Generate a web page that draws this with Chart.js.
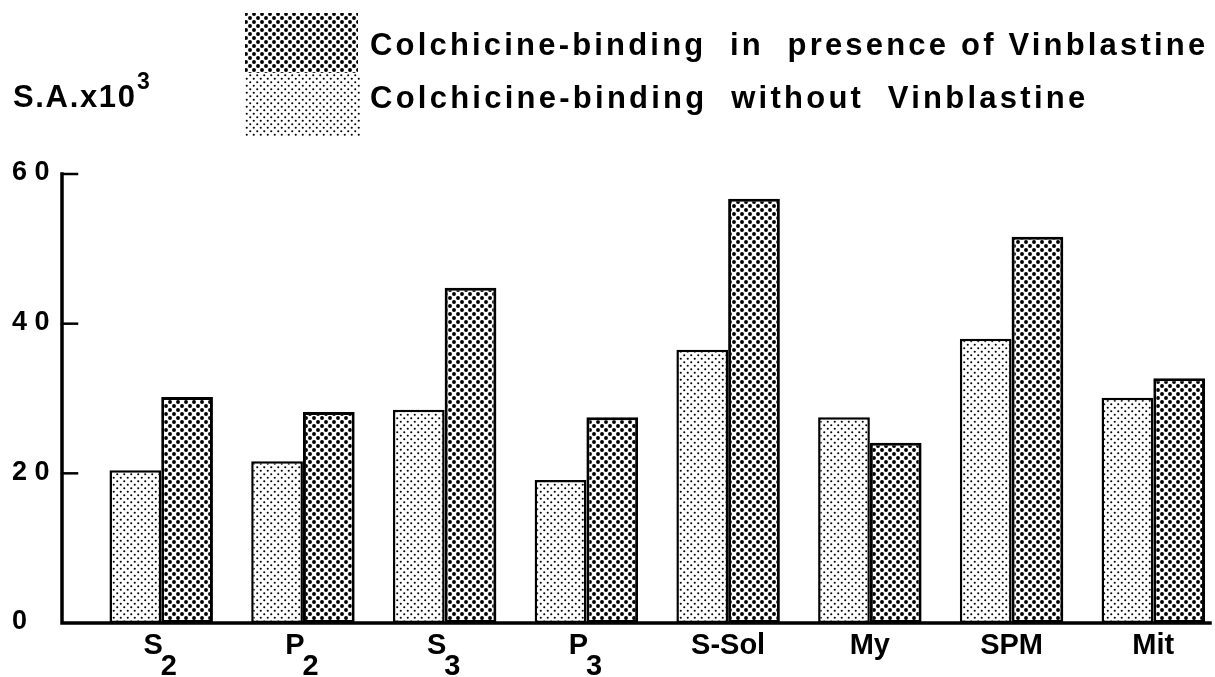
<!DOCTYPE html>
<html>
<head>
<meta charset="utf-8">
<script src="https://cdn.jsdelivr.net/npm/chart.js@4"></script>
<style>
  html, body { margin: 0; padding: 0; background: #fff; }
  canvas { display: block; }
</style>
</head>
<body>
<canvas id="myChart" width="1215" height="677"></canvas>
<script>
// categories (subscripts kept as unicode, drawn lowered by the label plugin)
const categories = ['S₂', 'P₂', 'S₃', 'P₃', 'S-Sol', 'My', 'SPM', 'Mit'];
// S.A. x10^3
const withoutVin = [20.4, 21.6, 28.5, 19.1, 36.5, 27.5, 38.0, 30.1];
const withVin = [30.2, 28.2, 44.8, 27.5, 56.7, 24.1, 51.6, 32.7];
const yTicks = [0, 20, 40, 60];
const seriesNames = ['Colchicine-binding  without  Vinblastine', 'Colchicine-binding  in  presence of Vinblastine'];
const yTitle = 'S.A.x10';
const yTitleSup = '3';

// halftone dot patterns
function dots(size, r) {
    const c = document.createElement('canvas');
    c.width = c.height = size;
    const g = c.getContext('2d');
    g.fillStyle = '#fff';
    g.fillRect(0, 0, size, size);
    g.fillStyle = '#000';
    [[size / 4, size / 4], [size * 3 / 4, size * 3 / 4]].forEach(([x, y]) => {
        g.beginPath();
        g.arc(x, y, r, 0, Math.PI * 2);
        g.fill();
    });
    return g.createPattern(c, 'repeat');
}
const lightPat = dots(7, 1.05);
const darkPat = dots(8, 1.95);

const subMap = { '₂': '2', '₃': '3' };

function spreadText(ctx, t, x, y, target) {
    ctx.letterSpacing = '0px';
    const w = ctx.measureText(t).width;
    const sp = (target - w) / (t.length - 1);
    ctx.letterSpacing = sp.toFixed(2) + 'px';
    ctx.fillText(t, x, y);
    ctx.letterSpacing = '0px';
}

const decor = {
    id: 'decor',
    afterDraw(chart) {
        const ctx = chart.ctx;
        const x = chart.scales.x, y = chart.scales.y;
        const a = chart.chartArea;
        ctx.save();
        ctx.strokeStyle = '#000';
        ctx.fillStyle = '#000';
        ctx.lineCap = 'square';

        // axes
        ctx.lineWidth = 3.5;
        ctx.beginPath();
        ctx.moveTo(a.left, a.top);
        ctx.lineTo(a.left, a.bottom);
        ctx.lineTo(a.right, a.bottom);
        ctx.stroke();

        // y ticks + labels
        ctx.lineWidth = 2.5;
        ctx.font = 'bold 27px "Liberation Sans", Arial, sans-serif';
        ctx.textBaseline = 'middle';
        ctx.textAlign = 'left';
        yTicks.forEach(v => {
            const py = y.getPixelForValue(v);
            if (v > 0) {
                ctx.beginPath();
                ctx.moveTo(a.left, py);
                ctx.lineTo(a.left + 15, py);
                ctx.stroke();
            }
            ctx.fillText(String(v).split('').join(' '), 12, py - 1);
        });

        // x labels with lowered subscripts
        ctx.font = 'bold 29px "Liberation Sans", Arial, sans-serif';
        ctx.textBaseline = 'alphabetic';
        categories.forEach((lab, i) => {
            let main = '', sub = '';
            for (const ch of lab) {
                if (subMap[ch]) sub += subMap[ch]; else main += ch;
            }
            const mw = ctx.measureText(main).width;
            const sw = sub ? ctx.measureText(sub).width : 0;
            const cx = x.getPixelForValue(i);
            const sx = cx - (mw + sw) / 2;
            ctx.fillText(main, sx, 654);
            if (sub) ctx.fillText(sub, sx + mw - 2, 675);
        });

        // y title
        ctx.font = 'bold 31px "Liberation Sans", Arial, sans-serif';
        spreadText(ctx, yTitle, 13, 107, 122);
        ctx.font = 'bold 23px "Liberation Sans", Arial, sans-serif';
        ctx.fillText(yTitleSup, 137, 89);

        // legend swatches (dark on top, light below)
        ctx.fillStyle = darkPat;
        ctx.fillRect(245, 13, 113, 60);
        ctx.fillStyle = lightPat;
        ctx.fillRect(245, 73, 115, 64);

        // legend text, spread to the widths in the picture
        ctx.fillStyle = '#000';
        ctx.font = 'bold 31px "Liberation Sans", Arial, sans-serif';
        spreadText(ctx, seriesNames[1], 370, 55, 835);
        spreadText(ctx, seriesNames[0], 370, 108, 715);
        ctx.restore();
    }
};

const data = {
    datasets: [{
        label: seriesNames[0],
        data: withoutVin.map((v, i) => ({ x: i, y: v })),
        backgroundColor: lightPat,
        borderColor: '#000',
        borderWidth: 2.5,
        borderSkipped: false
    }, {
        label: seriesNames[1],
        data: withVin.map((v, i) => ({ x: i, y: v })),
        backgroundColor: darkPat,
        borderColor: '#000',
        borderWidth: 3,
        borderSkipped: false
    }]
};

const config = {
    type: 'bar',
    data,
    options: {
        responsive: false,
        animation: false,
        devicePixelRatio: 1,
        categoryPercentage: 0.73,
        barPercentage: 1.0,
        layout: { padding: { left: 62, right: 5, top: 174, bottom: 54 } },
        scales: {
            x: {
                type: 'linear', min: -0.7, max: 7.4, offset: false, display: false,
                afterBuildTicks: s => { s.ticks = categories.map((_, i) => ({ value: i })); }
            },
            y: { min: 0, max: 60, display: false }
        },
        plugins: {
            legend: { display: false },
            tooltip: { enabled: false }
        }
    },
    plugins: [decor]
};

const myChart = new Chart(document.getElementById('myChart'), config);
</script>
</body>
</html>
